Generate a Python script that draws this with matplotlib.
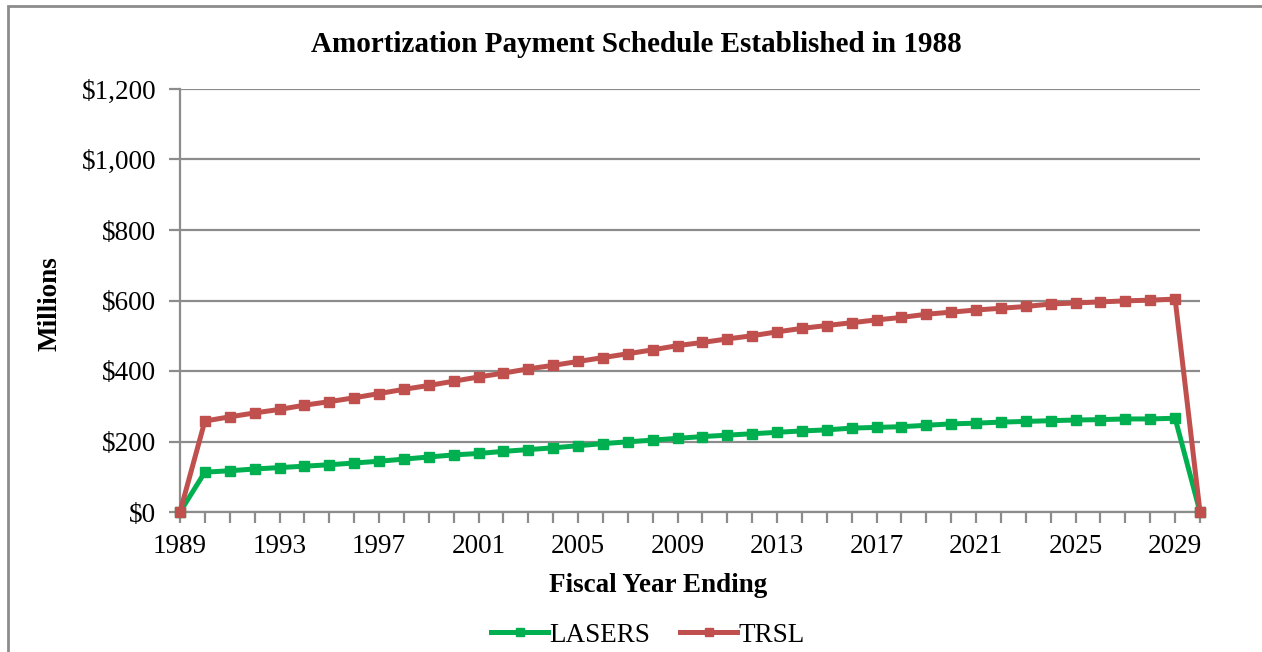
import matplotlib.pyplot as plt
from matplotlib.patches import Rectangle
from matplotlib.ticker import FuncFormatter, MultipleLocator

years = list(range(1989, 2031))
lasers = [0, 113, 117, 122, 126, 130, 134, 139, 144, 150, 156, 162, 166, 172, 177,
          182, 188, 194, 199, 204, 209, 214, 218, 222, 226, 230, 233, 238, 240,
          242, 246, 250, 252, 255, 257, 259, 261, 262, 264, 264, 266, 0]
trsl = [0, 258, 270, 281, 291, 303, 313, 324, 336, 348, 359, 371, 383, 394, 406,
        416, 427, 438, 449, 460, 472, 481, 491, 500, 511, 521, 529, 537, 545,
        552, 561, 567, 573, 578, 583, 590, 593, 596, 599, 601, 604, 0]
xtick_years = list(range(1989, 2030, 4))

GREEN = "#00B050"
RED = "#C0504D"
GRID = "#8C8C8C"

plt.rcParams["font.family"] = ["Liberation Serif", "DejaVu Serif"]

fig = plt.figure(figsize=(12.62, 6.52), dpi=100)
ax = fig.add_axes([180 / 1262, 1 - 512 / 652, 1020 / 1262, 423 / 652])

# outer chart frame
fig.patches.append(Rectangle((8 / 1262, -0.1), 1.1, 1 - 6 / 652 + 0.1,
                             transform=fig.transFigure, fill=False,
                             edgecolor=GRID, linewidth=2))

ax.plot(years, lasers, color=GREEN, lw=3.6, marker="s", ms=7.5,
        label="LASERS", solid_joinstyle="miter", zorder=3, clip_on=False)
ax.plot(years, trsl, color=RED, lw=3.6, marker="s", ms=7.5,
        label="TRSL", solid_joinstyle="miter", zorder=4, clip_on=False)

ax.set_xlim(1989, 2030)
ax.set_ylim(0, 1200)
ax.yaxis.set_major_locator(MultipleLocator(200))
ax.yaxis.set_major_formatter(FuncFormatter(lambda v, p: f"${v:,.0f}"))
ax.set_xticks(years, minor=True)
ax.set_xticks(xtick_years)
ax.set_xticklabels([str(y) for y in xtick_years])

ax.grid(axis="y", color=GRID, lw=1.6)
ax.set_axisbelow(True)
for side in ("top", "right"):
    ax.spines[side].set_visible(False)
for side in ("left", "bottom"):
    ax.spines[side].set_color(GRID)
    ax.spines[side].set_linewidth(1.6)

ax.tick_params(axis="y", which="major", length=8, width=1.6, color=GRID,
               labelsize=19.5, pad=9)
ax.tick_params(axis="x", which="both", length=8, width=1.6, color=GRID,
               labelsize=19.5, pad=8)

fig.text(636 / 1262, 1 - 45 / 652, "Amortization Payment Schedule Established in 1988",
         fontsize=21, fontweight="bold", ha="center", va="center")
fig.text(658 / 1262, 1 - 586 / 652, "Fiscal Year Ending",
         fontsize=19.5, fontweight="bold", ha="center", va="center")
fig.text(50 / 1262, 1 - 304 / 652, "Millions", rotation=90,
         fontsize=19.5, fontweight="bold", ha="center", va="center")

leg = fig.legend(loc="center", bbox_to_anchor=(648 / 1262, 1 - 635 / 652),
                 ncol=2, frameon=False, fontsize=19.5, handlelength=2.1,
                 handletextpad=0.05, columnspacing=1.1, markerscale=0.7)

fig.savefig("out.png", dpi=100)
